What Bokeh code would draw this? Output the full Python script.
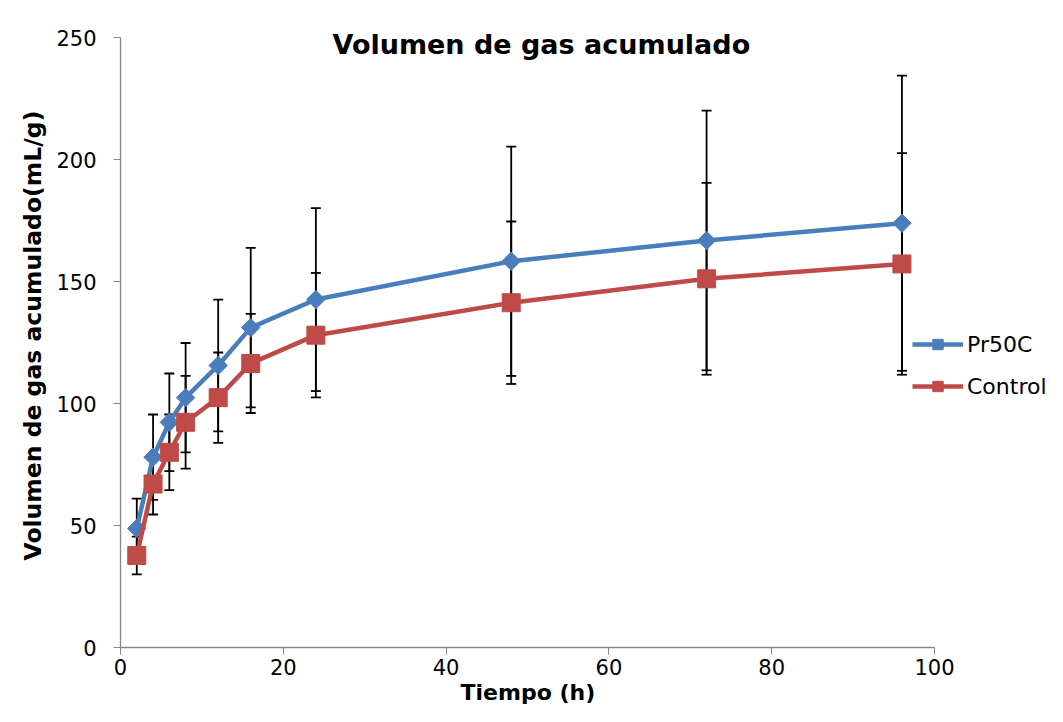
import numpy as np
from bokeh.plotting import figure
from bokeh.models import (ColumnDataSource, Whisker, TeeHead, Range1d, Legend,
                          LegendItem, Label, FixedTicker, Title)
from bokeh.embed import file_html
from bokeh.resources import INLINE

# ---- data ----
times = [2, 4, 6, 8, 12, 16, 24, 48, 72, 96]
pr50c = [48.8, 78.0, 92.3, 102.4, 115.6, 131.1, 142.6, 158.3, 166.8, 173.9]
pr50c_err = [12.2, 17.5, 20.0, 22.4, 27.0, 32.7, 37.5, 47.0, 53.2, 60.5]
control = [37.7, 67.0, 80.0, 92.3, 102.4, 116.4, 128.0, 141.3, 151.1, 157.2]
control_err = [7.7, 12.5, 15.5, 19.0, 18.5, 20.3, 25.5, 33.3, 39.3, 45.4]
x_ticks = [0, 20, 40, 60, 80, 100]
y_ticks = [0, 50, 100, 150, 200, 250]
title_text = "Volumen de gas acumulado"
x_label = "Tiempo (h)"
y_label = "Volumen de gas acumulado(mL/g)"
series_names = ["Pr50C", "Control"]

BLUE = "#4A7EBB"
RED = "#BE4B48"
GRAY = "#868686"
FONT = "DejaVu Sans"

W, H = 1047, 706
LEFT, AXIS_TOP, AXIS_RIGHT, BOTTOM = 120, 37, 934, 59
AXIS_BOTTOM = H - BOTTOM
# frame extends to the right and top edges so the legend / title are not clipped;
# the axes themselves are drawn over 0..100 and 0..250 only
x_end = 100.0 * (W - LEFT) / (AXIS_RIGHT - LEFT)
y_end = 250.0 * AXIS_BOTTOM / (AXIS_BOTTOM - AXIS_TOP)

p = figure(width=W, height=H, output_backend="svg", toolbar_location=None,
           x_range=Range1d(0, x_end), y_range=Range1d(0, y_end),
           min_border_left=LEFT, min_border_right=0, min_border_top=0,
           min_border_bottom=BOTTOM)
p.outline_line_color = None
p.xgrid.visible = False
p.ygrid.visible = False

for ax in (p.xaxis[0], p.yaxis[0]):
    ax.axis_line_color = GRAY
    ax.axis_line_width = 1.3
    ax.major_tick_line_color = GRAY
    ax.major_tick_out = 7
    ax.major_tick_in = 0
    ax.minor_tick_line_color = None
    ax.major_label_text_font = FONT
    ax.major_label_text_font_size = "21px"
    ax.major_label_text_color = "black"

p.xaxis[0].ticker = FixedTicker(ticks=x_ticks)
p.xaxis[0].bounds = (0, 100)
p.yaxis[0].ticker = FixedTicker(ticks=y_ticks)
p.yaxis[0].bounds = (0, 250)
p.xaxis[0].major_label_standoff = 4
p.yaxis[0].major_label_standoff = 17

# axis titles as offset Titles so they sit where the reference has them
p.add_layout(Title(text=x_label, align="left", offset=340,
                   text_font=FONT, text_font_size="22px", text_font_style="bold",
                   text_color="black", standoff=0), "below")
p.add_layout(Title(text=y_label, align="left", offset=87,
                   text_font=FONT, text_font_size="23.5px", text_font_style="bold",
                   text_color="black", standoff=14), "left")

src_b = ColumnDataSource(dict(x=times, y=pr50c,
                              lo=[v - e for v, e in zip(pr50c, pr50c_err)],
                              hi=[v + e for v, e in zip(pr50c, pr50c_err)]))
src_r = ColumnDataSource(dict(x=times, y=control,
                              lo=[v - e for v, e in zip(control, control_err)],
                              hi=[v + e for v, e in zip(control, control_err)]))

for src in (src_b, src_r):
    w = Whisker(source=src, base="x", lower="lo", upper="hi", dimension="height",
                line_color="black", line_width=1.8, level="underlay",
                upper_head=TeeHead(size=10, line_color="black", line_width=1.8),
                lower_head=TeeHead(size=10, line_color="black", line_width=1.8))
    p.add_layout(w)

lb = p.line("x", "y", source=src_b, line_color=BLUE, line_width=4.5)
mb = p.scatter("x", "y", source=src_b, marker="square", angle=np.pi / 4, size=13,
               fill_color=BLUE, line_color=BLUE)
lr = p.line("x", "y", source=src_r, line_color=RED, line_width=4.5)
mr = p.scatter("x", "y", source=src_r, marker="square", size=18,
               fill_color=RED, line_color=RED)

legend = Legend(items=[LegendItem(label=series_names[0], renderers=[lb, mb]),
                       LegendItem(label=series_names[1], renderers=[lr, mr])],
                location=(792, 248), orientation="vertical",
                padding=0, margin=0, spacing=16,
                glyph_width=51, glyph_height=26, label_height=26,
                label_standoff=4,
                label_text_font=FONT, label_text_font_size="22px",
                label_text_color="black",
                border_line_color=None, background_fill_alpha=0)
p.add_layout(legend)

p.add_layout(Label(x=51.7, y=247.0, text=title_text, text_align="center",
                   text_baseline="alphabetic", text_font=FONT,
                   text_font_size="27px", text_font_style="bold",
                   text_color="black"))

open("out.html", "w").write(file_html(p, INLINE))
